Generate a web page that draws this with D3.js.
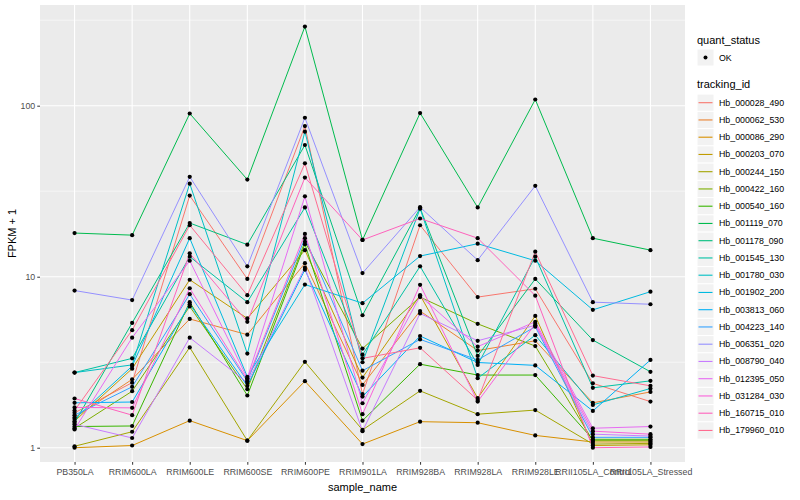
<!DOCTYPE html>
<html><head><meta charset="utf-8">
<script src="https://cdn.jsdelivr.net/npm/d3@7"></script>
<style>body{margin:0;background:#fff}svg{display:block;font-family:"Liberation Sans",Arial,Helvetica,sans-serif}</style>
</head><body><svg id="c" width="800" height="500"></svg>
<script>
const samples = ["PB350LA","RRIM600LA","RRIM600LE","RRIM600SE","RRIM600PE","RRIM901LA","RRIM928BA","RRIM928LA","RRIM928LE","RRII105LA_Control","RRII105LA_Stressed"];
const trackingIds = ["Hb_000028_490","Hb_000062_530","Hb_000086_290","Hb_000203_070","Hb_000244_150","Hb_000422_160","Hb_000540_160","Hb_001119_070","Hb_001178_090","Hb_001545_130","Hb_001780_030","Hb_001902_200","Hb_003813_060","Hb_004223_140","Hb_006351_020","Hb_008790_040","Hb_012395_050","Hb_031284_030","Hb_160715_010","Hb_179960_010"];
const colors = ["#F8766D","#EA8331","#D89000","#C09B00","#A3A500","#7CAE00","#39B600","#00BB4E","#00BF7D","#00C1A3","#00BFC4","#00BAE0","#00B0F6","#35A2FF","#9590FF","#C77CFF","#E76BF3","#FA62DB","#FF62BC","#FF6C91"];
// FPKM + 1 per sample, one array per tracking_id
const v_000028_490 = [1.6,2.4,29.8,9.7,76,2.06,20,7.6,8.5,2.38,1.86];
const v_000062_530 = [1.5,2.51,5.66,4.58,12.0,2.33,6.3,3.7,4.22,1.83,2.12];
const v_000086_290 = [1.0,1.03,1.44,1.1,2.45,1.05,1.42,1.4,1.18,1.08,1.08];
const v_000203_070 = [1.43,2.9,9.6,5.7,14.3,2.57,7.8,1.95,5.9,1.03,1.04];
const v_000244_150 = [1.02,1.24,3.86,1.1,3.18,1.27,2.15,1.57,1.66,1.05,1.06];
const v_000422_160 = [1.3,2.14,6.7,2.2,16,3.8,7.6,5.3,3.93,1.1,1.1];
const v_000540_160 = [1.33,1.34,7.1,2.02,15.5,1.44,3.08,2.66,2.66,1.12,1.12];
const v_001119_070 = [18,17.5,90,37,290,16.4,90.6,25.4,108.7,16.8,14.3];
const v_001178_090 = [1.4,5.37,20.6,15.4,58.9,5.95,25.2,3.44,9.7,4.26,2.78];
const v_001545_130 = [2.75,3.33,13.1,7.1,25.4,3.5,11.5,3.05,13.1,2.24,2.46];
const v_001780_030 = [2.75,3.05,35,3.55,70.5,3.16,25,2.55,4.55,1.78,2.22];
const v_001902_200 = [1.47,3.0,16.8,2.6,9.0,7.0,13.2,15.6,12.4,6.4,8.17];
const v_003813_060 = [1.83,1.85,6.9,2.3,11.0,1.99,4.5,3.15,3.03,1.64,3.26];
const v_004223_140 = [1.55,2.27,7.9,2.45,16.8,2.82,4.3,3.26,5.1,1.15,1.15];
const v_006351_020 = [8.3,7.3,38.4,11.5,85,10.5,25.5,12.5,34,7.1,6.9];
const v_008790_040 = [1.37,1.14,4.4,2.4,11.3,1.25,6.1,4.22,5.2,1.2,1.17];
const v_012395_050 = [1.28,4.4,12.4,2.55,29.5,1.82,7.7,3.9,5.45,1.3,1.33];
const v_031284_030 = [1.72,1.71,8.56,2.5,17.8,1.57,8.97,1.86,5.3,1.25,1.2];
const v_160715_010 = [1.94,1.55,13.7,5.45,38,16.4,21.9,16.8,7.75,1.0,1.01];
const v_179960_010 = [1.65,4.87,20,7.8,46,3.33,3.84,1.9,14.0,2.64,2.3];
const seriesValues = [v_000028_490,v_000062_530,v_000086_290,v_000203_070,v_000244_150,v_000422_160,v_000540_160,v_001119_070,v_001178_090,v_001545_130,v_001780_030,v_001902_200,v_003813_060,v_004223_140,v_006351_020,v_008790_040,v_012395_050,v_031284_030,v_160715_010,v_179960_010];
const yMajor = [1,10,100];
const yMinor = [Math.sqrt(10),Math.sqrt(1000),Math.sqrt(100000)];

const svg = d3.select("#c");
const L=40,R=685,T=5,B=462;
const x = d3.scalePoint().domain(samples).range([L,R]).padding(0.6);
const y = d3.scaleLog().domain([0.825,388]).range([B,T]);

svg.append("rect").attr("x",L).attr("y",T).attr("width",R-L).attr("height",B-T).attr("fill","#EBEBEB");
const g = svg.append("g");
yMinor.forEach(v=>g.append("line").attr("x1",L).attr("x2",R).attr("y1",y(v)).attr("y2",y(v)).attr("stroke","#fff").attr("stroke-width",0.55));
yMajor.forEach(v=>g.append("line").attr("x1",L).attr("x2",R).attr("y1",y(v)).attr("y2",y(v)).attr("stroke","#fff").attr("stroke-width",1.1));
samples.forEach(s=>g.append("line").attr("x1",x(s)).attr("x2",x(s)).attr("y1",T).attr("y2",B).attr("stroke","#fff").attr("stroke-width",1.1));

const line = d3.line().x((d,i)=>x(samples[i])).y(d=>y(d));
seriesValues.forEach((vals,k)=>{
  svg.append("path").attr("d",line(vals)).attr("fill","none").attr("stroke",colors[k]).attr("stroke-width",1);
});
seriesValues.forEach(vals=>{
  vals.forEach((v,i)=>svg.append("circle").attr("cx",x(samples[i])).attr("cy",y(v)).attr("r",2.1).attr("fill","#000"));
});

// axes
const ax = svg.append("g").attr("transform",`translate(0,${B})`).call(d3.axisBottom(x).tickSize(2.75).tickPadding(4));
ax.select(".domain").remove();
ax.selectAll("line").attr("stroke","#333");
ax.selectAll("text").attr("fill","#4D4D4D").attr("font-size","8.8px");
const ay = svg.append("g").attr("transform",`translate(${L},0)`).call(d3.axisLeft(y).tickValues(yMajor).tickFormat(d3.format("d")).tickSize(2.75).tickPadding(2));
ay.select(".domain").remove();
ay.selectAll("line").attr("stroke","#333");
ay.selectAll("text").attr("fill","#4D4D4D").attr("font-size","8.8px");

svg.append("text").attr("x",(L+R)/2).attr("y",491).attr("text-anchor","middle").attr("font-size","11px").attr("fill","#000").text("sample_name");
svg.append("text").attr("transform",`translate(16,${(T+B)/2}) rotate(-90)`).attr("text-anchor","middle").attr("font-size","11px").attr("fill","#000").text("FPKM + 1");

// legends
const lx = 697;
svg.append("text").attr("x",lx).attr("y",44).attr("font-size","11px").text("quant_status");
svg.append("rect").attr("x",lx).attr("y",49).attr("width",17).attr("height",17).attr("fill","#F2F2F2").attr("stroke","#fff");
svg.append("circle").attr("cx",lx+8.5).attr("cy",57.5).attr("r",2).attr("fill","#000");
svg.append("text").attr("x",lx+22).attr("y",60.5).attr("font-size","8.8px").text("OK");
svg.append("text").attr("x",lx).attr("y",88).attr("font-size","11px").text("tracking_id");
trackingIds.forEach((id,k)=>{
  const cy = 102.7 + k*17.25;
  svg.append("rect").attr("x",lx).attr("y",cy-8.6).attr("width",17).attr("height",17.25).attr("fill","#F2F2F2").attr("stroke","#fff");
  svg.append("line").attr("x1",lx+1.5).attr("x2",lx+15.5).attr("y1",cy).attr("y2",cy).attr("stroke",colors[k]).attr("stroke-width",1.1);
  svg.append("text").attr("x",lx+22).attr("y",cy+3).attr("font-size","8.8px").text(id);
});
</script></body></html>
